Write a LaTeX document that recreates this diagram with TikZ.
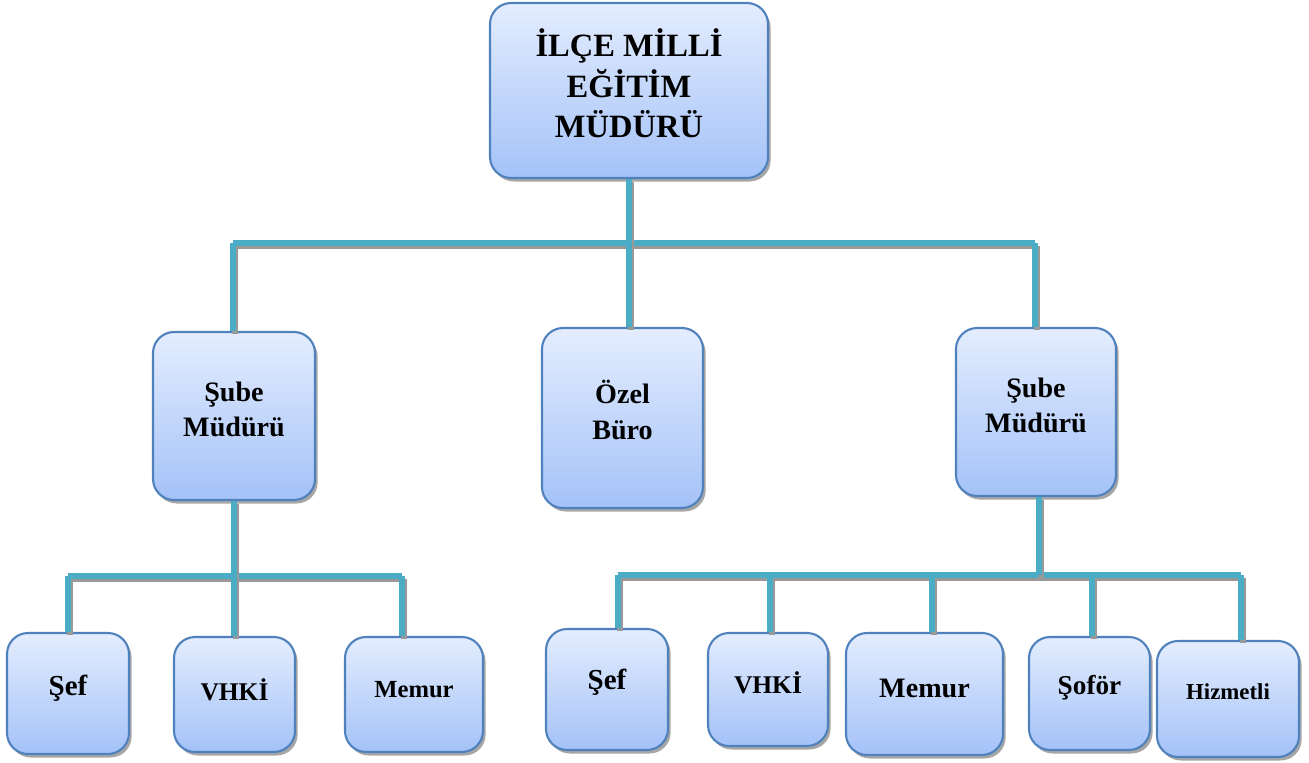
\documentclass[tikz,border=0pt]{standalone}
\usepackage{fontspec}
\setmainfont{Liberation Serif}
\usetikzlibrary{shadows}
\definecolor{conncol}{RGB}{75,172,198}
\definecolor{boxedge}{RGB}{79,129,189}
\definecolor{boxtop}{RGB}{228,237,254}
\definecolor{boxbot}{RGB}{164,194,248}
\tikzset{
  x=0.02cm, y=-0.02cm,
  orgbox/.style={draw=boxedge, line width=1.2pt, rounded corners=12pt,
    top color=boxtop, bottom color=boxbot, inner sep=0pt,
    drop shadow={shadow xshift=1.5pt, shadow yshift=-2pt, fill=black, opacity=0.35}},
  orglabel/.style={align=center, inner sep=0pt, font=\bfseries},
  conn/.style={draw=conncol, line width=3.4pt,
    preaction={draw=gray!80, line width=3.4pt, transform canvas={shift={(1pt,-1.6pt)}}}},
}
% #1 name, #2-#5 box corners (px), #6 text, #7 font, #8 upward text shift (px)
\newcommand\orgbox[8]{%
  \node[orgbox, minimum width={(#4-#2)*0.02cm}, minimum height={(#5-#3)*0.02cm}]
    (#1) at ({(#2+#4)/2},{(#3+#5)/2}) {};
  \node[orglabel, font=\bfseries#7] (#1-text) at ([yshift={#8*0.02cm}]#1.center) {#6};}
\begin{document}
\begin{tikzpicture}
\useasboundingbox (0,0) rectangle (1309,763);
% boxes
\orgbox{top}{490}{3}{768}{178}{İLÇE MİLLİ\\EĞİTİM\\MÜDÜRÜ}{\fontsize{18.5}{23}\selectfont}{7}
\orgbox{sube1}{153}{332}{315}{500}{Şube\\Müdürü}{\fontsize{16}{20}\selectfont}{7}
\orgbox{ozel}{542}{328}{703}{508}{Özel\\Büro}{\fontsize{16}{21}\selectfont}{8}
\orgbox{sube2}{956}{328}{1116}{496}{Şube\\Müdürü}{\fontsize{16}{20}\selectfont}{7}
\orgbox{sef1}{7}{633}{129}{754}{Şef}{\fontsize{16.5}{16}\selectfont}{5}
\orgbox{vhki1}{174}{637}{295}{752}{VHKİ}{\fontsize{14.5}{16}\selectfont}{5}
\orgbox{memur1}{345}{637}{483}{752}{Memur}{\fontsize{14}{16}\selectfont}{5}
\orgbox{sef2}{546}{629}{668}{750}{Şef}{\fontsize{16.5}{16}\selectfont}{7}
\orgbox{vhki2}{708}{633}{828}{746}{VHKİ}{\fontsize{14.5}{16}\selectfont}{7}
\orgbox{memur2}{846}{633}{1003}{755}{Memur}{\fontsize{16}{16}\selectfont}{6}
\orgbox{sofor}{1029}{637}{1150}{750}{Şoför}{\fontsize{15.5}{16}\selectfont}{6}
\orgbox{hizm}{1157}{641}{1299}{757}{Hizmetli}{\fontsize{13}{14}\selectfont}{7}
% connector coordinates
\coordinate (b1L) at (233,243);
\coordinate (b1R) at (1035,243);
\coordinate (b2L) at (68,576);
\coordinate (b2R) at (402,576);
\coordinate (b3L) at (618,575);
\coordinate (b3R) at (1241,575);
\coordinate (b3a) at (770,575);
\coordinate (b3b) at (932,575);
\coordinate (b3c) at (1092,575);
\coordinate (b3s) at (1039,575);
% level 1
\draw[conn] (b1L) -- (b1R);
\draw[conn] (top.south) -- (top.south |- ozel.north);
\draw[conn] (b1L) -- (b1L |- sube1.north);
\draw[conn] (b1R) -- (b1R |- sube2.north);
% left group
\draw[conn] (b2L) -- (b2R);
\draw[conn] (sube1.south) -- (sube1.south |- vhki1.north);
\draw[conn] (b2L) -- (b2L |- sef1.north);
\draw[conn] (b2R) -- (b2R |- memur1.north);
% right group
\draw[conn] (b3L) -- (b3R);
\draw[conn] (b3s |- sube2.south) -- (b3s);
\draw[conn] (b3L) -- (b3L |- sef2.north);
\draw[conn] (b3a) -- (b3a |- vhki2.north);
\draw[conn] (b3b) -- (b3b |- memur2.north);
\draw[conn] (b3c) -- (b3c |- sofor.north);
\draw[conn] (b3R) -- (b3R |- hizm.north);
\end{tikzpicture}
\end{document}
